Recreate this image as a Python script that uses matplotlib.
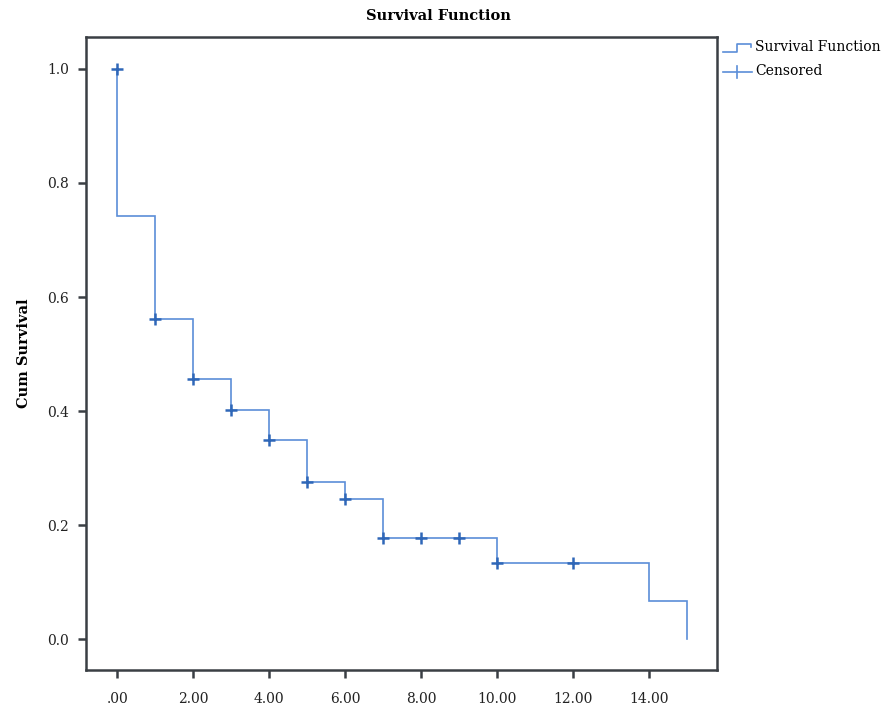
import matplotlib
matplotlib.use("Agg")
from matplotlib import pyplot as plt
from matplotlib.lines import Line2D

# step curve (time, cumulative survival after the step)
times = [0, 1, 2, 3, 4, 5, 6, 7, 10, 14, 15]
surv = [0.742, 0.561, 0.456, 0.402, 0.349, 0.275, 0.245, 0.177, 0.133, 0.067, 0.0]

# censored observations
cens_t = [0, 1, 2, 3, 4, 5, 6, 7, 8, 9, 10, 12]
cens_s = [1.0, 0.561, 0.456, 0.402, 0.349, 0.275, 0.245, 0.177, 0.177, 0.177, 0.133, 0.133]

x_ticks = [0, 2, 4, 6, 8, 10, 12, 14]
x_labels = [".00", "2.00", "4.00", "6.00", "8.00", "10.00", "12.00", "14.00"]
y_ticks = [0.0, 0.2, 0.4, 0.6, 0.8, 1.0]

line_col = "#5b8ed8"
mark_col = "#2f67b8"
spine_col = "#3a3f44"

plt.rcParams["font.family"] = ["DejaVu Serif"]
plt.rcParams["font.size"] = 10

fig = plt.figure(figsize=(8.87, 7.14), dpi=100)
ax = fig.add_axes([86 / 887, 44 / 714, 631 / 887, 633 / 714])

# build the step path: start at 1.0, drop at each time
xs, ys = [0], [1.0]
prev = 1.0
for i, (t, s) in enumerate(zip(times, surv)):
  xs += [t, t]
  ys += [prev, s]
  if i + 1 < len(times):
    xs.append(times[i + 1])
    ys.append(s)
  prev = s
ax.plot(xs, ys, color=line_col, lw=1.2, solid_joinstyle="miter")
ax.plot(cens_t, cens_s, ls="none", marker="+", ms=9, mew=1.8, color=mark_col)

ax.set_xlim(-0.82, 15.79)
ax.set_ylim(-0.054, 1.056)
ax.set_xticks(x_ticks)
ax.set_xticklabels(x_labels)
ax.set_yticks(y_ticks)
ax.set_yticklabels([f"{v:.1f}" for v in y_ticks])
ax.tick_params(length=6, width=1.8, color=spine_col, labelcolor="#222222", pad=10)
ax.tick_params(axis="y", pad=6)
for sp in ax.spines.values():
  sp.set_color(spine_col)
  sp.set_linewidth(1.8)

ax.set_ylabel("Cum Survival", fontweight="bold", labelpad=12, fontsize=10.5)
fig.text(438 / 887, 1 - 16 / 714, "Survival Function", ha="center", va="center",
         fontweight="bold", fontsize=10.5)

# legend drawn outside the axes on the right
def fx(px):
  return px / 887

def fy(py):
  return 1 - py / 714

fig.add_artist(Line2D([fx(723), fx(737), fx(737), fx(751), fx(751)],
                      [fy(52), fy(52), fy(44), fy(44), fy(47)], color=line_col, lw=1.2))
fig.text(fx(755), fy(47), "Survival Function", va="center", fontsize=10)
fig.add_artist(Line2D([fx(723), fx(752)], [fy(72), fy(72)], color=line_col, lw=1.2))
fig.add_artist(Line2D([fx(737), fx(737)], [fy(66), fy(78)], color=line_col, lw=1.2))
fig.text(fx(755), fy(71), "Censored", va="center", fontsize=10)

fig.savefig("out.png", dpi=100)
